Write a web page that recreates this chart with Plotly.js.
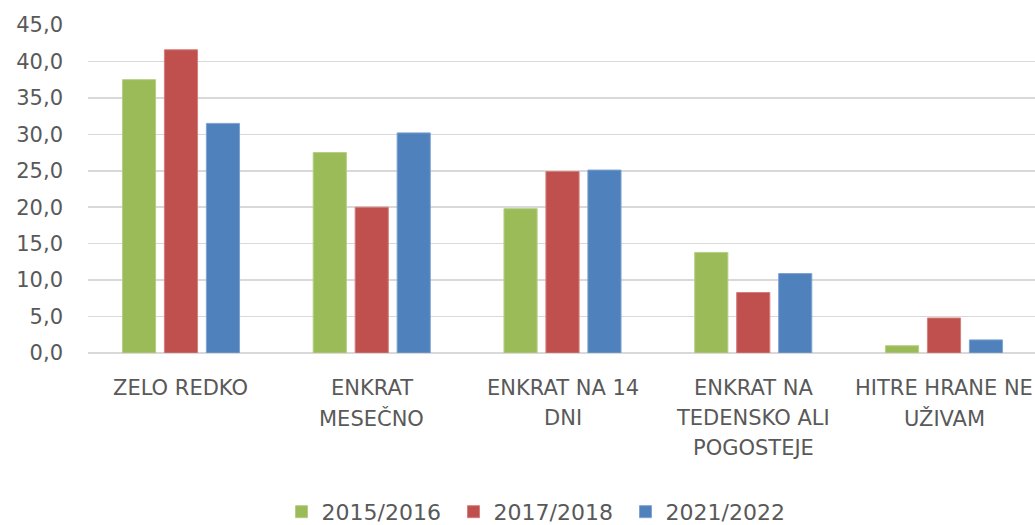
<!DOCTYPE html>
<html>
<head>
<meta charset="utf-8">
<script src="https://cdn.plot.ly/plotly-3.0.1.min.js"></script>
<style>html,body{margin:0;padding:0;background:#fff;}#chart{width:1035px;height:525px;}</style>
</head>
<body>
<div id="chart"></div>
<script>
const categories = ["ZELO REDKO", "ENKRAT MESEČNO", "ENKRAT NA 14 DNI", "ENKRAT NA TEDENSKO ALI POGOSTEJE", "HITRE HRANE NE UŽIVAM"];
const categoryLabelLines = [
  ["ZELO REDKO"],
  ["ENKRAT", "MESEČNO"],
  ["ENKRAT NA 14", "DNI"],
  ["ENKRAT NA", "TEDENSKO ALI", "POGOSTEJE"],
  ["HITRE HRANE NE", "UŽIVAM"]
];
const seriesNames = ["2015/2016", "2017/2018", "2021/2022"];
const values2015 = [37.5, 27.5, 19.8, 13.8, 1.0];
const values2017 = [41.6, 20.0, 24.9, 8.3, 4.8];
const values2021 = [31.5, 30.2, 25.1, 10.9, 1.8];
const yTicks = [0, 5, 10, 15, 20, 25, 30, 35, 40, 45];

const colors = ["#9BBB59", "#C0504D", "#4F81BD"];
const edgeColors = ["#B5CE85", "#D47F7C", "#7FA3D1"];
const textColor = "#595959";
const fontFamily = "DejaVu Sans, sans-serif";

const allValues = [values2015, values2017, values2021];
const traces = allValues.map((vals, i) => ({
  type: "bar",
  name: seriesNames[i],
  x: categories,
  y: vals,
  marker: {color: colors[i], line: {color: edgeColors[i], width: 1}},
  hoverinfo: "x+y+name"
}));

const annotations = [];
categoryLabelLines.forEach((lines, ci) => {
  lines.forEach((line, li) => {
    annotations.push({
      x: categories[ci], xref: "x",
      y: 0, yref: "paper",
      text: line,
      showarrow: false,
      xanchor: "center", yanchor: "middle",
      yshift: -(35 + li * 30),
      font: {family: fontFamily, size: 21, color: textColor}
    });
  });
});

const layout = {
  width: 1035, height: 525,
  paper_bgcolor: "#ffffff", plot_bgcolor: "#ffffff",
  margin: {l: 88, r: 0, t: 25, b: 172, pad: 0, autoexpand: false},
  separators: ",.",
  barmode: "group",
  bargap: 0.34,
  bargroupgap: 0.21,
  showlegend: true,
  xaxis: {
    type: "category",
    range: [-0.4875, 4.477],
    showticklabels: false,
    showgrid: false,
    zeroline: false,
    showline: false,
    ticks: "",
    fixedrange: true
  },
  yaxis: {
    range: [0, 45],
    tickvals: yTicks,
    tickformat: ".1f",
    showgrid: true,
    gridcolor: "#D9D9D9",
    gridwidth: 1.5,
    zeroline: true,
    zerolinecolor: "#D9D9D9",
    zerolinewidth: 1.5,
    showline: false,
    ticks: "",
    ticklabelstandoff: 24,
    tickfont: {family: fontFamily, size: 21, color: textColor},
    fixedrange: true
  },
  legend: {
    orientation: "h",
    xref: "container", yref: "container",
    x: 0.272, xanchor: "left",
    y: 0.025, yanchor: "middle",
    font: {family: fontFamily, size: 22, color: textColor},
    entrywidth: 127,
    entrywidthmode: "pixels",
    traceorder: "normal",
    bgcolor: "rgba(0,0,0,0)"
  },
  annotations: annotations
};

Plotly.newPlot("chart", traces, layout, {displayModeBar: false, staticPlot: true});
</script>
</body>
</html>
